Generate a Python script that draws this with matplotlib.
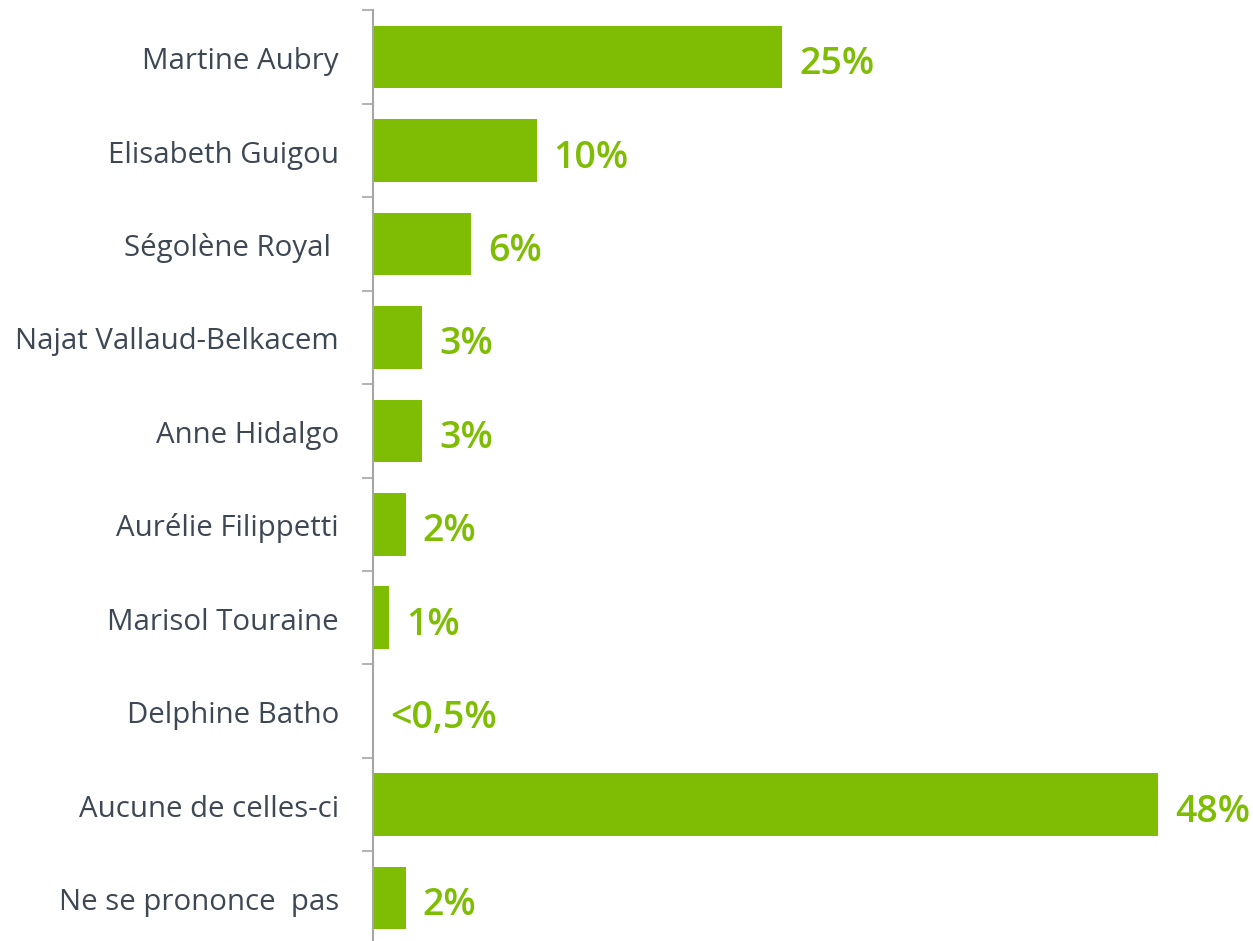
import matplotlib
matplotlib.use("Agg")
import matplotlib.pyplot as plt
from matplotlib.ticker import FixedLocator

categories = ["Martine Aubry", "Elisabeth Guigou", "Ségolène Royal ", "Najat Vallaud-Belkacem",
              "Anne Hidalgo", "Aurélie Filippetti", "Marisol Touraine", "Delphine Batho",
              "Aucune de celles-ci", "Ne se prononce  pas"]
values = [25, 10, 6, 3, 3, 2, 1, 0, 48, 2]
value_labels = ["25%", "10%", "6%", "3%", "3%", "2%", "1%", "<0,5%", "48%", "2%"]

green = "#7FBD05"
text_col = "#3E4854"
axis_col = "#A6A6A6"

fig = plt.figure(figsize=(12.53, 9.41), dpi=100)
ax = fig.add_axes([373/1253, -0.004, 880/1253, 0.993])

n = len(categories)
ypos = list(range(n))
ax.barh(ypos, values, height=0.67, color=green, zorder=2)
ax.set_ylim(n - 0.5, -0.5)
ax.set_xlim(0, 53.8)

for y, v, lab in zip(ypos, values, value_labels):
    ax.annotate(lab, xy=(v, y), xytext=(17, -17), textcoords="offset pixels",
                ha="left", va="baseline", fontsize=27, fontweight="semibold", color=green,
                family="Open Sans", annotation_clip=False)

for y, cat in zip(ypos, categories):
    ax.annotate(cat, xy=(0, y), xytext=(-34, -12), textcoords="offset pixels",
                ha="right", va="baseline", fontsize=21.2, color=text_col,
                family="Open Sans", annotation_clip=False)

ax.set_yticks([])
ax.yaxis.set_minor_locator(FixedLocator([i - 0.5 for i in range(n + 1)]))
ax.tick_params(axis="y", which="minor", length=8, width=1.2, color=axis_col)
ax.set_xticks([])
for s in ["top", "right", "bottom"]:
    ax.spines[s].set_visible(False)
ax.spines["left"].set_color(axis_col)
ax.spines["left"].set_linewidth(1.5)

fig.savefig("out.png", dpi=100, facecolor="white")
